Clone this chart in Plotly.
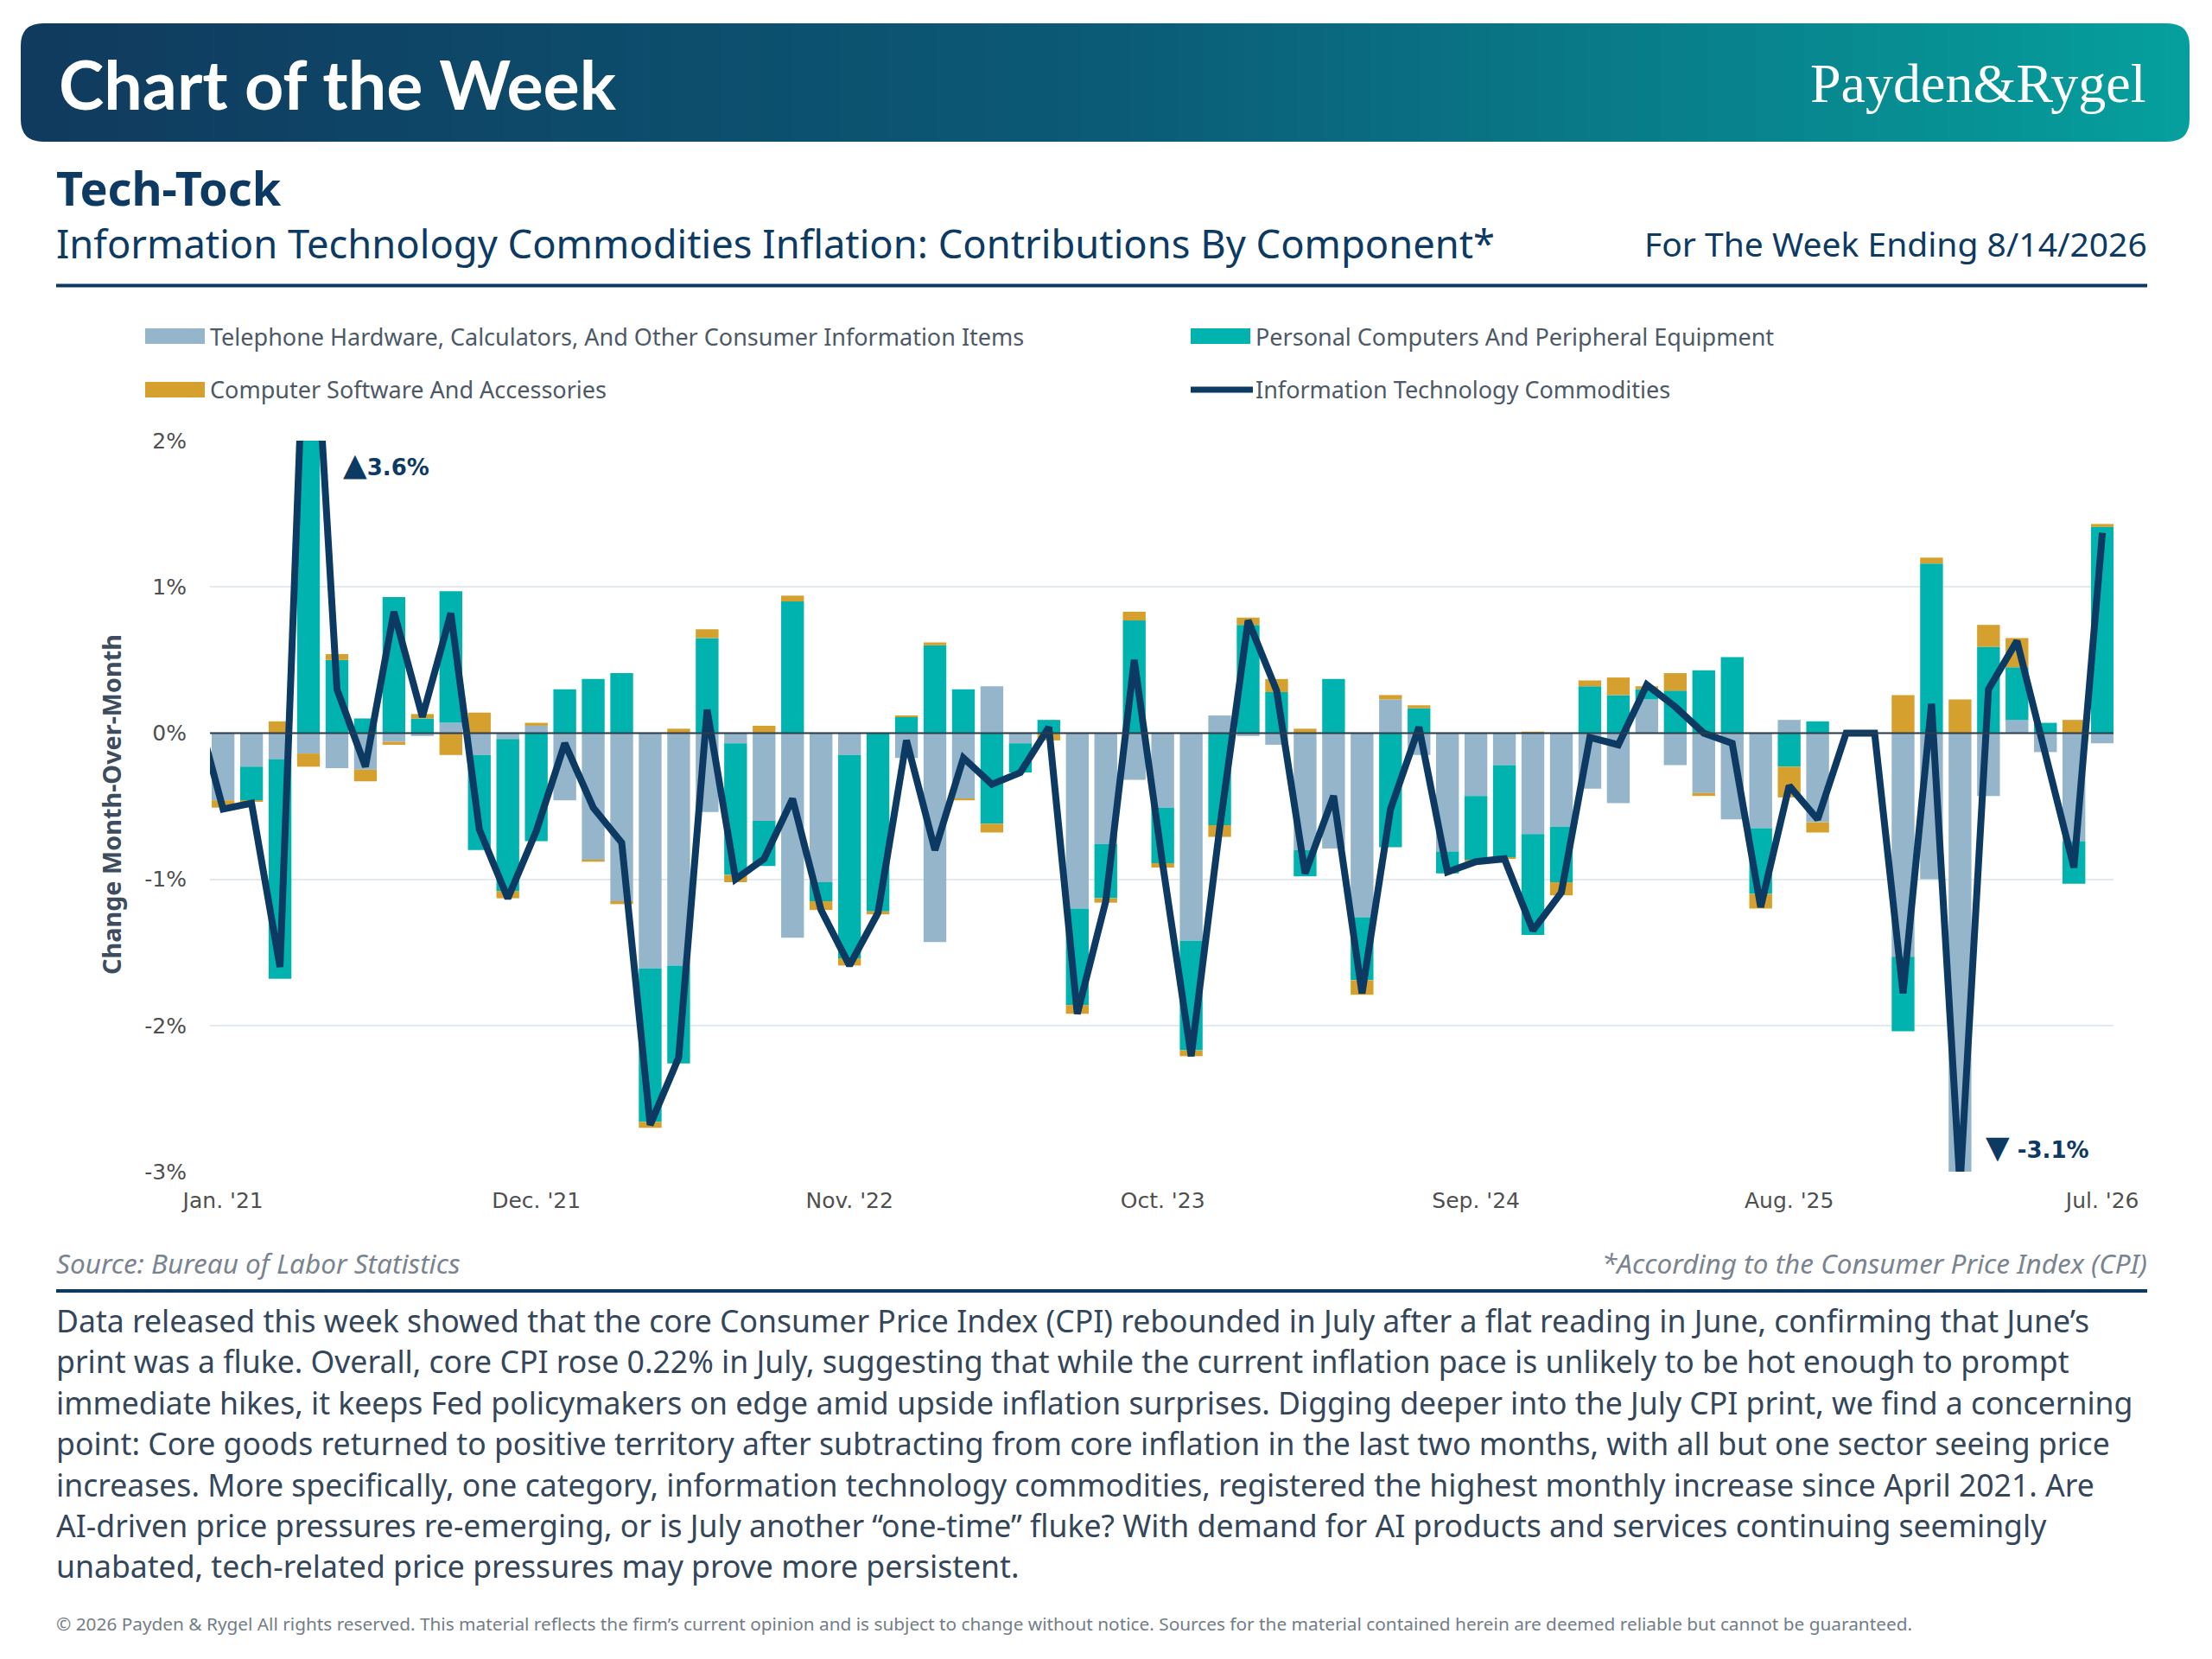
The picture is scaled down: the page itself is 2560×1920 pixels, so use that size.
#!/usr/bin/env python3
"""
Chart of the Week - Tech-Tock
- IT commodities CPI inflation, contributions by component (stacked bars + total line).
- Writes out.html
"""
import pandas as pd
import plotly.graph_objects as go

# Page geometry (pixels). Positions below are measured on the page; the browser
# adds a body margin, so everything is pulled back by OFF_X / OFF_Y.
W, H = 2560, 1920
OFF_X, OFF_Y = 8, 9
PLOT_LEFT, PLOT_RIGHT, PLOT_TOP, PLOT_BOTTOM = 243, 2446, 511, 1357
ML = PLOT_LEFT - OFF_X
MR = W - (PLOT_RIGHT - OFF_X)
MT = PLOT_TOP - OFF_Y
MB = H - (PLOT_BOTTOM - OFF_Y)

# Colours
NAVY = '#0d3a63'
TEL_COLOR = '#95b5ca'
PC_COLOR = '#00b3ae'
SW_COLOR = '#d5a02d'
TEXT_GREY = '#4d5966'

# Data: monthly contributions (percentage points), Jan 2021 .. Jul 2026
months = pd.date_range('2021-01-01', '2026-07-01', freq='MS')
month_labels = [m.strftime("%b. '%y") for m in months]

telephone = [
    -0.46, -0.23, -0.18, -0.14, -0.24, -0.25, -0.06, -0.02, 0.07, -0.15, -0.04, 0.05,
    -0.46, -0.87, -1.15, -1.61, -1.59, -0.54, -0.07, -0.60, -1.40, -1.02, -0.15, 0.00,
    -0.17, -1.43, -0.45, 0.32, -0.07, 0.00, -1.20, -0.76, -0.32, -0.51, -1.42, 0.12,
    -0.02, -0.08, -0.80, -0.79, -1.26, 0.23, -0.15, -0.81, -0.43, -0.22, -0.69, -0.64,
    -0.38, -0.48, 0.23, -0.22, -0.41, -0.59, -0.65, 0.09, -0.61, 0.00, 0.00, -1.53,
    -1.00, -3.33, -0.43, 0.09, -0.13, -0.74, -0.07,
]
computers = [
    0.00, -0.23, -1.50, 3.83, 0.50, 0.10, 0.93, 0.10, 0.90, -0.65, -1.04, -0.74,
    0.30, 0.37, 0.41, -1.05, -0.67, 0.65, -0.90, -0.31, 0.90, -0.13, -1.39, -1.22,
    0.11, 0.60, 0.30, -0.62, -0.20, 0.09, -0.66, -0.37, 0.77, -0.38, -0.75, -0.63,
    0.74, 0.28, -0.18, 0.37, -0.43, -0.78, 0.17, -0.15, -0.44, -0.63, -0.69, -0.38,
    0.32, 0.26, 0.07, 0.29, 0.43, 0.52, -0.45, -0.23, 0.08, 0.00, 0.00, -0.51,
    1.16, 0.00, 0.59, 0.36, 0.07, -0.29, 1.41,
]
software = [
    -0.05, -0.01, 0.08, -0.09, 0.04, -0.08, -0.02, 0.03, -0.15, 0.14, -0.05, 0.02,
    0.00, -0.01, -0.02, -0.04, 0.03, 0.06, -0.05, 0.05, 0.04, -0.06, -0.05, -0.02,
    0.01, 0.02, -0.01, -0.06, 0.00, -0.05, -0.06, -0.03, 0.06, -0.03, -0.04, -0.08,
    0.05, 0.09, 0.03, 0.00, -0.10, 0.03, 0.02, 0.00, -0.01, -0.01, 0.01, -0.09,
    0.04, 0.12, 0.02, 0.12, -0.02, 0.00, -0.10, -0.21, -0.07, 0.00, 0.00, 0.26,
    0.04, 0.23, 0.15, 0.20, 0.00, 0.09, 0.02,
]
# Total IT commodities m/m change; the line starts one month earlier (Dec 2020)
it_total = [
    0.21,
    -0.52, -0.48, -1.60, 3.60, 0.30, -0.23, 0.83, 0.11, 0.82, -0.66, -1.13, -0.67,
    -0.07, -0.51, -0.75, -2.68, -2.22, 0.16, -1.00, -0.86, -0.45, -1.21, -1.59, -1.23,
    -0.05, -0.80, -0.17, -0.35, -0.27, 0.04, -1.92, -1.15, 0.50, -0.90, -2.21, -0.65,
    0.77, 0.29, -0.96, -0.43, -1.78, -0.52, 0.04, -0.95, -0.88, -0.86, -1.35, -1.09,
    -0.03, -0.08, 0.33, 0.18, 0.00, -0.07, -1.19, -0.36, -0.59, 0.00, 0.00, -1.78,
    0.20, -3.10, 0.30, 0.63, -0.15, -0.92, 1.37,
]

y_ticks = [-3, -2, -1, 0, 1, 2]
y_tick_labels = ['-3%', '-2%', '-1%', '0%', '1%', '2%']
x_tick_step = 11

legend_items = [
    ('Telephone Hardware, Calculators, And Other Consumer Information Items', TEL_COLOR, 'bar'),
    ('Personal Computers And Peripheral Equipment', PC_COLOR, 'bar'),
    ('Computer Software And Accessories', SW_COLOR, 'bar'),
    ('Information Technology Commodities', NAVY, 'line'),
]

paragraph = [
    "Data released this week showed that the core Consumer Price Index (CPI) rebounded in July after a flat reading in June, confirming that June’s",
    "print was a fluke. Overall, core CPI rose 0.22% in July, suggesting that while the current inflation pace is unlikely to be hot enough to prompt",
    "immediate hikes, it keeps Fed policymakers on edge amid upside inflation surprises. Digging deeper into the July CPI print, we find a concerning",
    "point: Core goods returned to positive territory after subtracting from core inflation in the last two months, with all but one sector seeing price",
    "increases. More specifically, one category, information technology commodities, registered the highest monthly increase since April 2021. Are",
    "AI-driven price pressures re-emerging, or is July another “one-time” fluke? With demand for AI products and services continuing seemingly",
    "unabated, tech-related price pressures may prove more persistent.",
]
footer = ("© 2026 Payden & Rygel All rights reserved. This material reflects the firm’s current opinion "
          "and is subject to change without notice. Sources for the material contained herein are deemed "
          "reliable but cannot be guaranteed.")

PLOT_W = W - ML - MR
PLOT_H = H - MT - MB


def px(x):
    """Measured page x -> paper x."""
    return (x - OFF_X - ML) / PLOT_W


def py(y):
    """Measured page y (from top) -> paper y."""
    return (H - MB - (y - OFF_Y)) / PLOT_H


def mix(c1, c2, t):
    return tuple(round(a + (b - a) * t) for a, b in zip(c1, c2))


def header_shapes():
    """Gradient banner with rounded ends, built from thin strips."""
    x0, x1, y0, y1, r = 24, 2534, 28, 165, 26
    stops = [(0.0, (16, 58, 94)), (0.5, (11, 90, 118)), (1.0, (6, 160, 157))]
    n = 90
    step = (x1 - x0) / n
    shapes = []
    for i in range(n):
        t = (i + 0.5) / n
        for (ta, ca), (tb, cb) in zip(stops[:-1], stops[1:]):
            if ta <= t <= tb:
                c = mix(ca, cb, (t - ta) / (tb - ta))
        color = 'rgb(%d,%d,%d)' % c
        a, b = x0 + i * step, x0 + (i + 1) * step + 0.8
        if i == 0:
            path = (f"M {px(a + r)},{py(y0)} L {px(b)},{py(y0)} L {px(b)},{py(y1)} "
                    f"L {px(a + r)},{py(y1)} Q {px(a)},{py(y1)} {px(a)},{py(y1 - r)} "
                    f"L {px(a)},{py(y0 + r)} Q {px(a)},{py(y0)} {px(a + r)},{py(y0)} Z")
            shapes.append(dict(type='path', path=path, xref='paper', yref='paper',
                               fillcolor=color, line=dict(width=0), layer='below'))
        elif i == n - 1:
            b = x1
            path = (f"M {px(a)},{py(y0)} L {px(b - r)},{py(y0)} Q {px(b)},{py(y0)} {px(b)},{py(y0 + r)} "
                    f"L {px(b)},{py(y1 - r)} Q {px(b)},{py(y1)} {px(b - r)},{py(y1)} "
                    f"L {px(a)},{py(y1)} Z")
            shapes.append(dict(type='path', path=path, xref='paper', yref='paper',
                               fillcolor=color, line=dict(width=0), layer='below'))
        else:
            shapes.append(dict(type='rect', xref='paper', yref='paper',
                               x0=px(a), x1=px(b), y0=py(y1), y1=py(y0),
                               fillcolor=color, line=dict(width=0), layer='below'))
    return shapes


def text(x, y, s, size, color, family='Noto Sans', xanchor='left', **kw):
    return dict(x=px(x), y=py(y), xref='paper', yref='paper', text=s, showarrow=False,
                xanchor=xanchor, yanchor='middle', align=xanchor if xanchor != 'center' else 'center',
                font=dict(family=family, size=size, color=color), **kw)


def build_figure():
    x = list(range(len(months)))
    fig = go.Figure()
    for name, vals, color in [(legend_items[0][0], telephone, TEL_COLOR),
                              (legend_items[1][0], computers, PC_COLOR),
                              (legend_items[2][0], software, SW_COLOR)]:
        fig.add_trace(go.Bar(x=x, y=vals, name=name, marker=dict(color=color, line=dict(width=0)),
                             width=0.8))
    fig.add_trace(go.Scatter(x=[-1] + x, y=it_total, name=legend_items[3][0], mode='lines',
                             line=dict(color=NAVY, width=8), cliponaxis=True))

    shapes = header_shapes()
    # rules
    shapes.append(dict(type='line', xref='paper', yref='paper', x0=px(65), x1=px(2485),
                       y0=py(331.5), y1=py(331.5), line=dict(color=NAVY, width=4)))
    shapes.append(dict(type='line', xref='paper', yref='paper', x0=px(65), x1=px(2485),
                       y0=py(1495), y1=py(1495), line=dict(color=NAVY, width=4)))
    # zero line above bars
    shapes.append(dict(type='line', xref='paper', yref='y', x0=0, x1=1, y0=0, y1=0,
                       line=dict(color='#2e3d4c', width=2), layer='above'))

    annotations = [
        text(66, 98, '<b>Chart of the Week</b>', 79, 'white', family='Lato'),
        text(2486, 98, 'Payden&amp;Rygel', 64, 'white', family='Liberation Serif', xanchor='right'),
        text(63, 218, '<b>Tech-Tock</b>', 54, NAVY),
        text(63, 282, 'Information Technology Commodities Inflation: Contributions By Component*', 45.3, NAVY),
        text(2487, 282, 'For The Week Ending 8/14/2026', 39, NAVY, xanchor='right'),
        text(63, 1462, '<i>Source: Bureau of Labor Statistics</i>', 31.5, '#7a8490'),
        text(2487, 1462, '<i>*According to the Consumer Price Index (CPI)</i>', 31.5, '#7a8490', xanchor='right'),
        text(63, 1880, footer, 20.8, '#737d88'),
        text(128, 932, '<b>Change Month-Over-Month</b>', 28.8, '#3d4d5e', xanchor='center', textangle=-90),
    ]
    for i, line in enumerate(paragraph):
        annotations.append(text(63, 1529 + i * 47.4, line, 35.6, '#34465a'))

    # legend, drawn by hand in two columns
    cols = [168, 1378]
    rows = [390, 452]
    for k, (label, color, kind) in enumerate(legend_items):
        lx, ly = cols[k % 2], rows[k // 2]
        if kind == 'bar':
            shapes.append(dict(type='rect', xref='paper', yref='paper', x0=px(lx), x1=px(lx + 69),
                               y0=py(ly + 9), y1=py(ly - 9), fillcolor=color, line=dict(width=0)))
        else:
            shapes.append(dict(type='line', xref='paper', yref='paper', x0=px(lx), x1=px(lx + 72),
                               y0=py(ly), y1=py(ly), line=dict(color=color, width=7)))
        annotations.append(text(lx + 73, ly, label, 27, TEXT_GREY))

    # off-scale callouts
    callout_font = dict(family='DejaVu Sans', size=26, color=NAVY)
    tri = '<span style="font-size:36px">%s</span>'
    annotations.append(dict(x=4.15, y=1.84, xref='x', yref='y', text='<b>%s3.6%%</b>' % (tri % '▲'),
                            showarrow=False, xanchor='left', yanchor='middle', font=callout_font))
    annotations.append(dict(x=61.85, y=-2.83, xref='x', yref='y', text='<b>%s -3.1%%</b>' % (tri % '▼'),
                            showarrow=False, xanchor='left', yanchor='middle', font=callout_font))

    fig.update_layout(
        width=W, height=H,
        margin=dict(l=ML, r=MR, t=MT, b=MB),
        paper_bgcolor='white', plot_bgcolor='white',
        barmode='relative', showlegend=False,
        shapes=shapes, annotations=annotations,
        xaxis=dict(range=[-0.46, 66.39], tickvals=x[::x_tick_step],
                   ticktext=month_labels[::x_tick_step], showgrid=False, zeroline=False,
                   showline=False, ticks='', ticklabelstandoff=16,
                   tickfont=dict(family='DejaVu Sans', size=25, color='#4f4f4f')),
        yaxis=dict(range=[-3, 2], tickvals=y_ticks, ticktext=y_tick_labels,
                   showgrid=True, gridcolor='#e2e9ef', gridwidth=2, zeroline=False,
                   showline=False, ticks='', ticklabelstandoff=26,
                   tickfont=dict(family='DejaVu Sans', size=25, color='#4f4f4f')),
    )
    return fig


def main():
    fig = build_figure()
    fig.write_html('out.html')


if __name__ == '__main__':
    main()
